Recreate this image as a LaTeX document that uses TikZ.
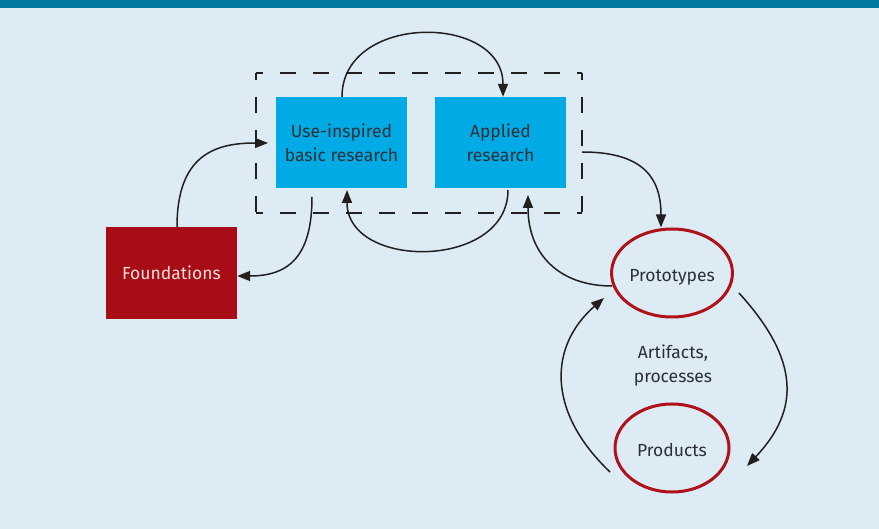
\documentclass[tikz,border=0pt]{standalone}
\usepackage{fontspec}
\setmainfont{Fira Sans}
\usetikzlibrary{arrows.meta,shapes.geometric}
\definecolor{bg}{HTML}{DDEBF4}
\definecolor{bar}{HTML}{0077A0}
\definecolor{cyanbox}{HTML}{00AAE4}
\definecolor{redbox}{HTML}{A80C14}
\definecolor{ring}{HTML}{B0121B}
\definecolor{ink}{HTML}{231F20}
\definecolor{txt}{HTML}{2B3035}
\tikzset{
  lbl/.style={font=\fontsize{17.5}{24}\selectfont},
  blue box/.style={lbl, fill=cyanbox, draw=none, minimum width=131pt, minimum height=91pt, inner sep=0pt, text=txt, align=center},
  red box/.style={lbl, fill=redbox, draw=none, minimum width=131pt, minimum height=92pt, inner sep=0pt, text=white!88!red},
  ring node/.style={lbl, ellipse, draw=ring, line width=3pt, minimum width=114pt, minimum height=88pt, inner sep=0pt, text=txt, text height=20pt, text depth=3pt},
  conn/.style={draw=ink, line width=1.5pt, -{Triangle[length=13pt,width=10pt]}},
  frame/.style={draw=ink, line width=1.3pt, dash pattern=on 16pt off 17pt, dash phase=9pt},
}
\begin{document}
\begin{tikzpicture}[x=1pt,y=-1pt]
\useasboundingbox (0,0) rectangle (879,529);
\fill[bg] (0,0) rectangle (879,529);
\fill[bar] (0,0) rectangle (879,8);
\coordinate (f1) at (256,73);
\coordinate (f2) at (582,73);
\coordinate (f3) at (582,213);
\coordinate (f4) at (256,213);
\draw[frame] (f1) -- (f2);
\draw[frame] (f4) -- (f3);
\draw[frame] (f1) -- (f4);
\draw[frame] (f2) -- (f3);
\node[blue box] (uib) at (341.5,142.5) {Use-inspired\\basic research};
\node[blue box] (app) at (500.5,142.5) {Applied\\research};
\node[red box] (fnd) at (171.5,273) {Foundations};
\node[ring node] (pro) at (672,273) {Prototypes};
\node[ring node] (prd) at (672,448) {Products};
\node[lbl, text=txt, align=center] (art) at (673,366) {Artifacts,\\processes};
\coordinate (a1s) at (uib.north -| 342,0);
\coordinate (a1e) at (app.north -| 503,0);
\draw[conn] (a1s) .. controls (342,13) and (503,13) .. (a1e);
\coordinate (a2s) at (fnd.north -| 177,0);
\coordinate (a2e) at (268,143);
\draw[conn] (a2s) .. controls (177,155) and (215,143) .. (a2e);
\coordinate (a3s) at (312,197);
\draw[conn] (a3s) .. controls (312,255) and (290,276) .. (fnd.east |- 0,276);
\coordinate (a4s) at (508,190);
\coordinate (a4e) at (347,190);
\draw[conn] (a4s) .. controls (508,270) and (347,270) .. (a4e);
\coordinate (a5s) at (582,152);
\draw[conn] (a5s) .. controls (640,152) and (661,175) .. (pro.north -| 661,0);
\coordinate (a6s) at (612,286);
\coordinate (a6e) at (528,195);
\draw[conn] (a6s) .. controls (560,286) and (528,255) .. (a6e);
\coordinate (a7s) at (610,472);
\coordinate (a7e) at (604,298);
\draw[conn] (a7s) .. controls (545,410) and (550,345) .. (a7e);
\coordinate (a8s) at (739,293);
\coordinate (a8e) at (747,466);
\draw[conn] (a8s) .. controls (800,360) and (800,410) .. (a8e);
\end{tikzpicture}
\end{document}
